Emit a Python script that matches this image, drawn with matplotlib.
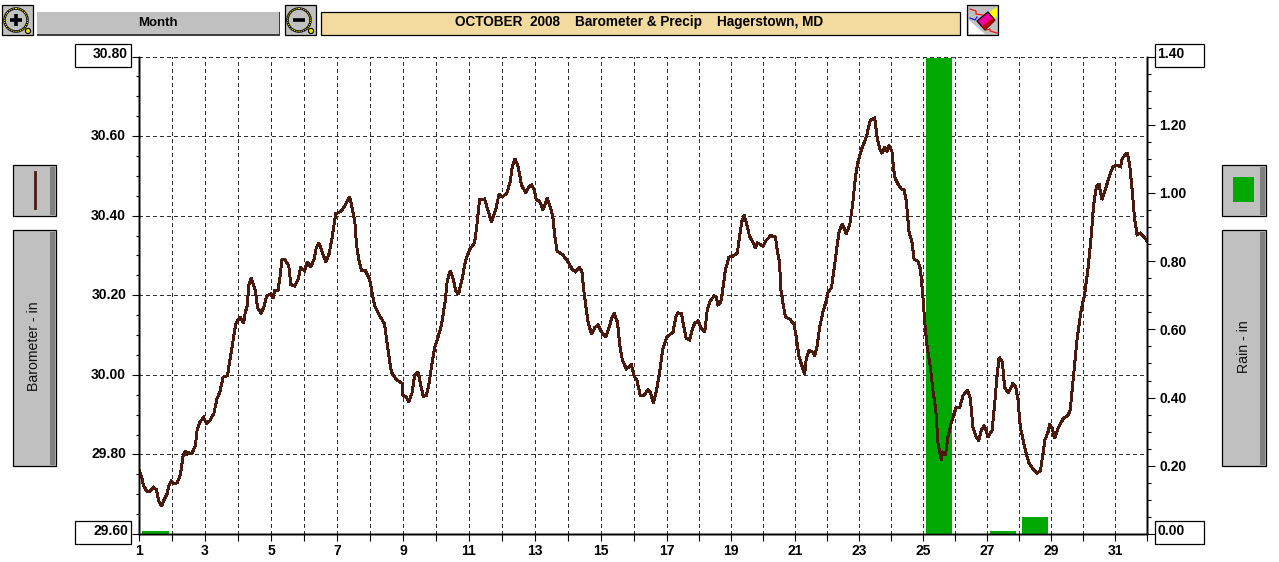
import numpy as np
import matplotlib
matplotlib.use("Agg")
import matplotlib.pyplot as plt
from matplotlib.patches import Rectangle, Circle, Polygon
from matplotlib.ticker import FixedLocator

plt.rcParams['font.family'] = ['Liberation Sans', 'DejaVu Sans']

# barometer trace (day of month, inches)
baro_days = [1.0, 1.07, 1.14, 1.24, 1.32, 1.44, 1.53, 1.60, 1.68, 1.76, 1.85, 1.91, 1.98, 2.06, 2.16, 2.26, 2.33, 2.40,
             2.41, 2.50, 2.61, 2.71, 2.76, 2.84, 2.96, 3.04, 3.14, 3.27, 3.36, 3.45, 3.55, 3.68, 3.77, 3.85, 3.93, 4.06,
             4.17, 4.22, 4.28, 4.33, 4.40, 4.53, 4.59, 4.71, 4.79, 4.86, 5.0, 5.06, 5.11, 5.21, 5.27, 5.33, 5.43, 5.54,
             5.60, 5.72, 5.82, 5.90, 6.02, 6.10, 6.20, 6.30, 6.37, 6.45, 6.56, 6.66, 6.76, 6.85, 6.96, 7.13, 7.25, 7.38,
             7.45, 7.54, 7.59, 7.66, 7.74, 7.86, 7.99, 8.06, 8.14, 8.26, 8.44, 8.52, 8.60, 8.65, 8.80, 8.98,
             9.0, 9.10, 9.17, 9.27, 9.35, 9.45, 9.53, 9.61, 9.71, 9.79, 9.86, 9.96, 10.06, 10.17, 10.28, 10.34, 10.43,
             10.51, 10.60, 10.68, 10.80, 10.89, 11.02, 11.17, 11.24, 11.32, 11.47, 11.57, 11.68, 11.81, 11.91, 12.01,
             12.15, 12.25, 12.31, 12.39, 12.49, 12.59, 12.72, 12.82, 12.90, 12.98, 13.04, 13.14, 13.24, 13.32, 13.37,
             13.47, 13.54, 13.60, 13.67, 13.85, 14.0, 14.13, 14.23, 14.35, 14.42, 14.48, 14.56, 14.62, 14.72, 14.81,
             14.91, 15.01, 15.14, 15.26, 15.33, 15.40, 15.50, 15.57, 15.65, 15.77, 15.83, 15.92, 16.0, 16.09, 16.19,
             16.30, 16.42, 16.49, 16.59, 16.69, 16.77, 16.87, 16.99,
             17.19, 17.27, 17.34, 17.45, 17.55, 17.60, 17.71, 17.78, 17.86, 17.97, 18.07, 18.18, 18.26, 18.36, 18.47,
             18.54, 18.59, 18.68, 18.75, 18.82, 18.93, 19.06, 19.20, 19.26, 19.34, 19.41, 19.48, 19.58, 19.69, 19.76,
             19.82, 20.0, 20.08, 20.24, 20.39, 20.45, 20.52, 20.55, 20.63, 20.70, 20.84, 20.97, 21.04, 21.13, 21.20,
             21.30, 21.35, 21.44, 21.57, 21.61, 21.69, 21.77, 21.88, 21.98, 22.03, 22.14, 22.24, 22.32, 22.38, 22.48,
             22.60, 22.71, 22.80, 22.89, 22.97, 23.09, 23.23, 23.35, 23.49, 23.57, 23.66, 23.72, 23.80, 23.89, 23.93,
             24.03, 24.11, 24.22, 24.32, 24.41, 24.48, 24.56, 24.66, 24.72, 24.84, 24.92,
             25.0, 25.05, 25.13, 25.23, 25.31, 25.40, 25.47, 25.57, 25.60, 25.70, 25.78, 25.89, 26.04, 26.15, 26.25,
             26.39, 26.48, 26.56, 26.65, 26.74, 26.82, 26.92, 27.03, 27.16, 27.24, 27.31, 27.38, 27.48, 27.55, 27.66,
             27.73, 27.81, 27.90, 27.97, 28.04, 28.15, 28.21, 28.31, 28.42, 28.56, 28.67, 28.75, 28.81, 28.91, 28.96,
             29.04, 29.11, 29.22, 29.38, 29.53, 29.60, 29.66, 29.74, 29.81, 29.93, 30.05, 30.16, 30.26, 30.33, 30.42,
             30.50, 30.59, 30.71, 30.85, 30.94, 31.04, 31.17, 31.23, 31.38, 31.46, 31.54, 31.61, 31.69, 31.79, 31.93,
             32.0]
baro_in = [29.761, 29.746, 29.721, 29.707, 29.707, 29.718, 29.711, 29.682, 29.669, 29.686, 29.701, 29.723, 29.733, 29.726,
           29.729, 29.751, 29.794, 29.809, 29.798, 29.804, 29.803, 29.823, 29.861, 29.881, 29.893, 29.878, 29.884, 29.903,
           29.940, 29.957, 29.994, 29.998, 30.044, 30.086, 30.128, 30.146, 30.129, 30.157, 30.173, 30.227, 30.244, 30.211,
           30.169, 30.154, 30.173, 30.197, 30.204, 30.192, 30.211, 30.211, 30.244, 30.289, 30.289, 30.273, 30.227, 30.223,
           30.240, 30.269, 30.262, 30.284, 30.271, 30.289, 30.319, 30.332, 30.307, 30.284, 30.304, 30.344, 30.405, 30.411,
           30.426, 30.448, 30.423, 30.386, 30.327, 30.290, 30.262, 30.262, 30.240, 30.207, 30.173, 30.153, 30.128, 30.078,
           30.032, 30.007, 29.988, 29.978,
           29.948, 29.944, 29.932, 29.953, 29.998, 30.008, 29.978, 29.946, 29.948, 29.978, 30.019, 30.069, 30.094, 30.127,
           30.186, 30.236, 30.261, 30.244, 30.211, 30.202, 30.244, 30.286, 30.315, 30.332, 30.377, 30.440, 30.442, 30.415,
           30.384, 30.415, 30.454, 30.447, 30.457, 30.486, 30.523, 30.544, 30.523, 30.477, 30.457, 30.473, 30.477, 30.465,
           30.440, 30.436, 30.415, 30.432, 30.444, 30.419, 30.398, 30.348, 30.311, 30.301, 30.284, 30.265, 30.259, 30.269,
           30.261, 30.211, 30.161, 30.127, 30.102, 30.119, 30.125, 30.109, 30.094, 30.123, 30.144, 30.155, 30.132, 30.073,
           30.036, 30.015, 30.019, 30.025, 29.998, 29.986, 29.947, 29.948, 29.963, 29.957, 29.929, 29.965, 30.002, 30.065,
           30.094,
           30.108, 30.144, 30.156, 30.154, 30.111, 30.092, 30.088, 30.111, 30.129, 30.136, 30.117, 30.108, 30.165, 30.187,
           30.198, 30.194, 30.176, 30.182, 30.219, 30.261, 30.296, 30.298, 30.307, 30.344, 30.386, 30.401, 30.382, 30.348,
           30.332, 30.319, 30.332, 30.323, 30.336, 30.350, 30.346, 30.311, 30.282, 30.219, 30.177, 30.146, 30.140, 30.127,
           30.094, 30.044, 30.027, 30.002, 30.040, 30.061, 30.057, 30.046, 30.073, 30.119, 30.161, 30.186, 30.207, 30.219,
           30.277, 30.327, 30.361, 30.380, 30.354, 30.377, 30.427, 30.498, 30.536, 30.569, 30.598, 30.640, 30.646, 30.594,
           30.565, 30.556, 30.573, 30.561, 30.577, 30.561, 30.498, 30.479, 30.467, 30.465, 30.436, 30.361, 30.332, 30.290,
           30.286, 30.265,
           30.194, 30.136, 30.069, 30.019, 29.961, 29.911, 29.828, 29.786, 29.807, 29.798, 29.844, 29.882, 29.919, 29.919,
           29.948, 29.961, 29.940, 29.869, 29.846, 29.834, 29.861, 29.873, 29.844, 29.861, 29.928, 29.994, 30.044, 30.032,
           29.969, 29.955, 29.965, 29.979, 29.969, 29.936, 29.869, 29.828, 29.807, 29.779, 29.765, 29.753, 29.759, 29.803,
           29.836, 29.857, 29.876, 29.865, 29.840, 29.865, 29.890, 29.898, 29.911, 29.961, 30.027, 30.086, 30.157, 30.202,
           30.269, 30.352, 30.427, 30.473, 30.480, 30.440, 30.469, 30.506, 30.523, 30.527, 30.523, 30.544, 30.558, 30.527,
           30.461, 30.394, 30.352, 30.356, 30.344, 30.336]

# daily rain, one bar per day
rain_days = list(range(1, 32))
rain_in = [0.01, 0, 0, 0, 0, 0, 0, 0, 0, 0, 0, 0, 0, 0, 0, 0, 0, 0, 0, 0, 0, 0, 0, 0,
           1.395, 0, 0.01, 0.05, 0, 0, 0]

baro_ticks = [29.6, 29.8, 30.0, 30.2, 30.4, 30.6, 30.8]
baro_labels = ['', '29.80', '30.00', '30.20', '30.40', '30.60', '']
rain_ticks = [0.0, 0.2, 0.4, 0.6, 0.8, 1.0, 1.2, 1.4]
rain_labels = ['', '0.20', '0.40', '0.60', '0.80', '1.00', '1.20', '']
day_ticks = list(range(1, 33))
day_labels = [str(d) if d % 2 == 1 and d < 32 else '' for d in day_ticks]

title = 'OCTOBER  2008    Barometer & Precip    Hagerstown, MD'

BROWN = '#4a1a0e'
GREEN = '#00a800'
GRAY = '#c0c0c0'
SHADE = '#808080'
TAN = '#f3da9e'
W, H = 1279, 562


# the program gives the first 16 days 33 px and the rest 32 px
def day_to_px(d):
    d = np.asarray(d, dtype=float)
    return np.where(d <= 17, (d - 1) * 33, 528 + (d - 17) * 32)


def px_to_day(p):
    p = np.asarray(p, dtype=float)
    return np.where(p <= 528, 1 + p / 33, 17 + (p - 528) / 32)


fig = plt.figure(figsize=(W / 100, H / 100), dpi=100, facecolor='white')

# three layers: barometer scale and grid, rain bars over the grid, trace over the bars
ax_baro = fig.add_axes([139 / W, (H - 534) / H, 1008 / W, 477.5 / H], zorder=1)
ax_baro.set_xscale('function', functions=(day_to_px, px_to_day))
ax_baro.set_xlim(1, 32)
ax_baro.set_ylim(29.6, 30.8)
ax_baro.set_xticks(day_ticks)
ax_baro.set_xticklabels(day_labels, fontsize=10, fontweight='bold')
ax_baro.tick_params(axis='x', which='major', length=5, width=0.8, pad=2)
ax_baro.xaxis.set_minor_locator(FixedLocator([]))
ax_baro.set_yticks(baro_ticks)
ax_baro.set_yticklabels(baro_labels, fontsize=10, fontweight='bold', va='center')
ax_baro.yaxis.set_minor_locator(FixedLocator(np.arange(29.6, 30.81, 0.05)))
ax_baro.tick_params(axis='y', which='major', length=5, width=0.8, pad=4.3)
ax_baro.tick_params(axis='y', which='minor', length=2.5, width=0.8)
ax_baro.grid(True, which='major', color='#333333', linewidth=0.72, linestyle=(0, (4, 3)))
for g in ax_baro.get_xgridlines() + ax_baro.get_ygridlines():
    g.set_clip_on(False)
    g.set_antialiased(False)

ax_rain = ax_baro.twinx()
ax_rain.set_zorder(2)
ax_rain.patch.set_visible(False)
ax_rain.bar(np.array(rain_days) + 0.09, rain_in, width=0.78, align='edge', color=GREEN,
            edgecolor=GREEN, linewidth=0.6, antialiased=False)
ax_rain.set_xlim(1, 32)
ax_rain.set_ylim(0, 1.4)
ax_rain.set_yticks(rain_ticks)
ax_rain.set_yticklabels(rain_labels, fontsize=10, fontweight='bold')
ax_rain.yaxis.set_minor_locator(FixedLocator(np.arange(0, 1.41, 0.05)))
ax_rain.tick_params(axis='y', which='major', length=5.8, width=0.8, pad=3.2)
ax_rain.tick_params(axis='y', which='minor', length=2.9, width=0.8)

ax_line = ax_baro.twinx()
ax_line.set_zorder(3)
ax_line.patch.set_visible(False)
ax_line.plot(baro_days, baro_in, color=BROWN, linewidth=1.4, solid_joinstyle='miter', antialiased=False)
ax_line.set_xlim(1, 32)
ax_line.set_ylim(29.6, 30.8)
ax_line.yaxis.set_visible(False)

for a in (ax_baro, ax_rain, ax_line):
    a.spines['top'].set_visible(False)
    for s in ('left', 'right', 'bottom'):
        a.spines[s].set_linewidth(1.0)

# window chrome is drawn in pixel coordinates on a clear layer
ui = fig.add_axes([0, 0, 1, 1], zorder=5)
ui.set_xlim(0, W)
ui.set_ylim(H, 0)
ui.axis('off')


def box(x0, y0, x1, y1, fc='white', lw=0.9, ec='black'):
    ui.add_patch(Rectangle((x0, y0), x1 - x0, y1 - y0, facecolor=fc, edgecolor=ec, linewidth=lw))


def side_button(x0, y0, x1, y1):
    box(x0, y0, x1, y1, GRAY)
    ui.add_patch(Rectangle((x1 - 5.5, y0 + 2), 5, y1 - y0 - 2.5, facecolor=SHADE, edgecolor='none'))


def magnifier(x0, minus):
    box(x0, 4.5, x0 + 31, 35, GRAY)
    cx, cy = x0 + 14.5, 20
    ui.add_patch(Circle((x0 + 26.5, 31), 2.6, facecolor='#e8e000', edgecolor='black', linewidth=0.8))
    ui.add_patch(Circle((cx, cy), 11.5, facecolor=GRAY, edgecolor='black', linewidth=1.8))
    ui.add_patch(Circle((cx, cy), 11.5, facecolor='none', edgecolor='#e8e000', linewidth=0.8, linestyle=(0, (1, 1))))
    ui.plot([cx - 6, cx + 6], [cy, cy], color='black', linewidth=2.6, solid_capstyle='butt')
    if not minus:
        ui.plot([cx, cx], [cy - 6, cy + 6], color='black', linewidth=2.6, solid_capstyle='butt')


# top bar
magnifier(1.5, False)
box(37, 12, 280, 35, GRAY, lw=0)
ui.add_patch(Rectangle((37, 33.5), 243, 2, facecolor='#404040', edgecolor='none'))
ui.add_patch(Rectangle((278.5, 12), 1.5, 23, facecolor='#404040', edgecolor='none'))
ui.text(158, 23.5, 'Month', ha='center', va='center', fontsize=9.5, fontweight='bold')
magnifier(284.5, True)
box(320.5, 11.5, 959.5, 35, TAN)
ui.text(639.5, 22, title, ha='center', va='center', fontsize=9.8, fontweight='bold')

# eraser icon
box(966.5, 4.5, 997.5, 35, GRAY)
ui.add_patch(Polygon([[969, 34], [969, 20], [985, 34]], facecolor='white', edgecolor='none'))
ui.add_patch(Polygon([[989, 12], [997, 7], [997, 15], [995, 20]], facecolor='#ffff00', edgecolor='none'))
ui.add_patch(Polygon([[977, 21], [988, 12], [995, 20], [985, 30]], facecolor='#f000a0', edgecolor='black', linewidth=0.9))
ui.add_patch(Polygon([[985, 30], [995, 20], [992, 18], [982, 27]], facecolor='#c00000', edgecolor='none'))
ui.plot([970, 976, 976, 983], [9, 11, 14, 15], color='red', linewidth=0.8)
ui.plot([970, 975, 977], [18, 20, 17], color='blue', linewidth=0.8)
ui.plot([986, 990, 990, 997], [30, 29, 31, 33], color='red', linewidth=0.8)

# value boxes at the ends of both scales
for y0, left, right in [(43.5, '30.80', '1.40'), (521, '29.60', '0.00')]:
    box(74.5, y0, 130.5, y0 + 23)
    box(1155, y0, 1203.5, y0 + 23)
    ui.text(128, y0 + 10, left, ha='right', va='center', fontsize=10, fontweight='bold')
    ui.text(1157.5, y0 + 10, right, ha='left', va='center', fontsize=10, fontweight='bold')

# side buttons
side_button(12.5, 164.5, 55.5, 215.5)
side_button(12.5, 229.5, 55.5, 465.5)
side_button(1222, 164.5, 1265.5, 215.5)
side_button(1222, 229.5, 1265.5, 465.5)
ui.plot([34.5, 34.5], [171.5, 208], color=BROWN, linewidth=2)
ui.add_patch(Rectangle((1233, 177), 21, 25, facecolor=GREEN, edgecolor='none'))
ui.text(34.5, 346.5, 'Barometer - in', rotation=90, ha='center', va='center', fontsize=10.2, color='#101010')
ui.text(1244, 346.5, 'Rain - in', rotation=90, ha='center', va='center', fontsize=10.2, color='#101010')

fig.savefig('out.png', dpi=100)
